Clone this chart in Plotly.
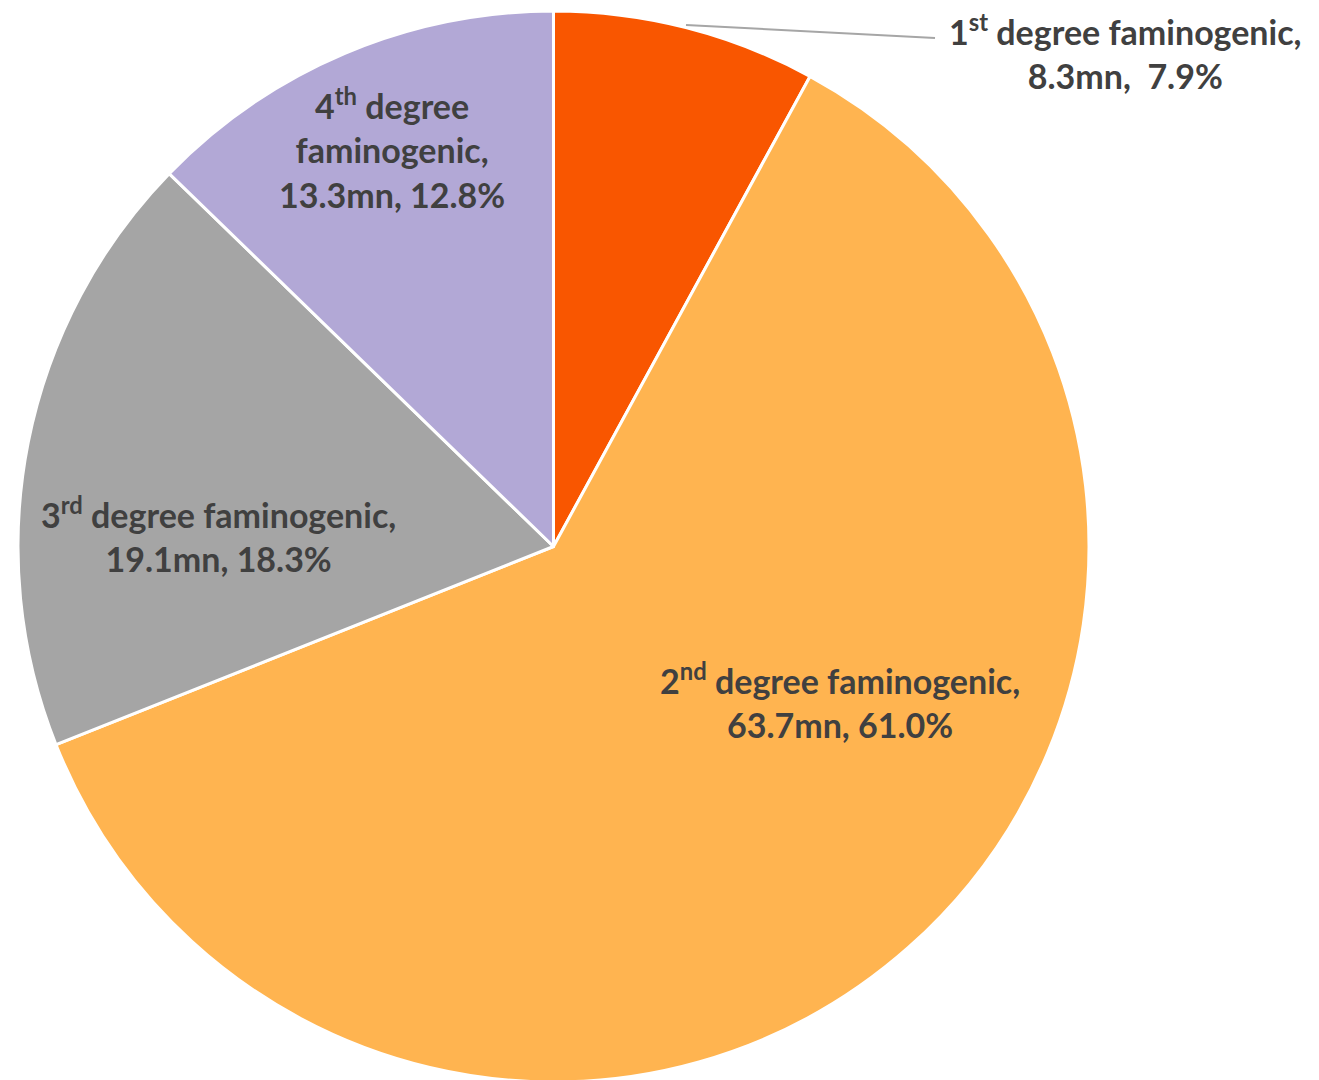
import plotly.graph_objects as go

# Data
categories = ["1st degree faminogenic", "2nd degree faminogenic", "3rd degree faminogenic", "4th degree faminogenic"]
values = [8.3, 63.7, 19.1, 13.3]
percents = ["7.9%", "61.0%", "18.3%", "12.8%"]
label_html = [
    "1<sup>st</sup> degree faminogenic,<br>{v}mn,  {p}",
    "2<sup>nd</sup> degree faminogenic,<br>{v}mn, {p}",
    "3<sup>rd</sup> degree faminogenic,<br>{v}mn, {p}",
    "4<sup>th</sup> degree<br>faminogenic,<br>{v}mn, {p}",
]
colors = ["#F95600", "#FFB450", "#A5A5A5", "#B2A8D6"]

W, H = 1319, 1080
OFF = 8  # page body margin offset
# label centres in page pixels (layout)
label_pos = [(1125, 52), (840, 701), (218, 535), (392, 149)]


def px(x):
    return (x - OFF) / W


def py(y):
    return 1 - (y - OFF) / H


fig = go.Figure(go.Pie(
    labels=categories,
    values=values,
    sort=False,
    direction="clockwise",
    rotation=0,
    textinfo="none",
    hoverinfo="label+value+percent",
    marker=dict(colors=colors, line=dict(color="white", width=3)),
    domain=dict(x=[px(18), px(18 + 1071)], y=[py(11 + 1071), py(11)]),
    showlegend=False,
))

font = dict(family="Lato, 'Open Sans', sans-serif", size=34, color="#404040", weight="bold")
for i, (lx, ly) in enumerate(label_pos):
    fig.add_annotation(
        x=px(lx), y=py(ly), xref="paper", yref="paper",
        text="<b>" + label_html[i].format(v=values[i], p=percents[i]) + "</b>",
        showarrow=False, xanchor="center", yanchor="middle", align="center",
        font=font,
    )

# leader line for 1st label
fig.add_shape(type="line", xref="paper", yref="paper",
              x0=px(686), y0=py(25), x1=px(935), y1=py(38),
              line=dict(color="#A6A6A6", width=2))

fig.update_layout(
    width=W, height=H,
    margin=dict(l=0, r=0, t=0, b=0),
    paper_bgcolor="white", plot_bgcolor="white",
)
fig.write_html("out.html")
